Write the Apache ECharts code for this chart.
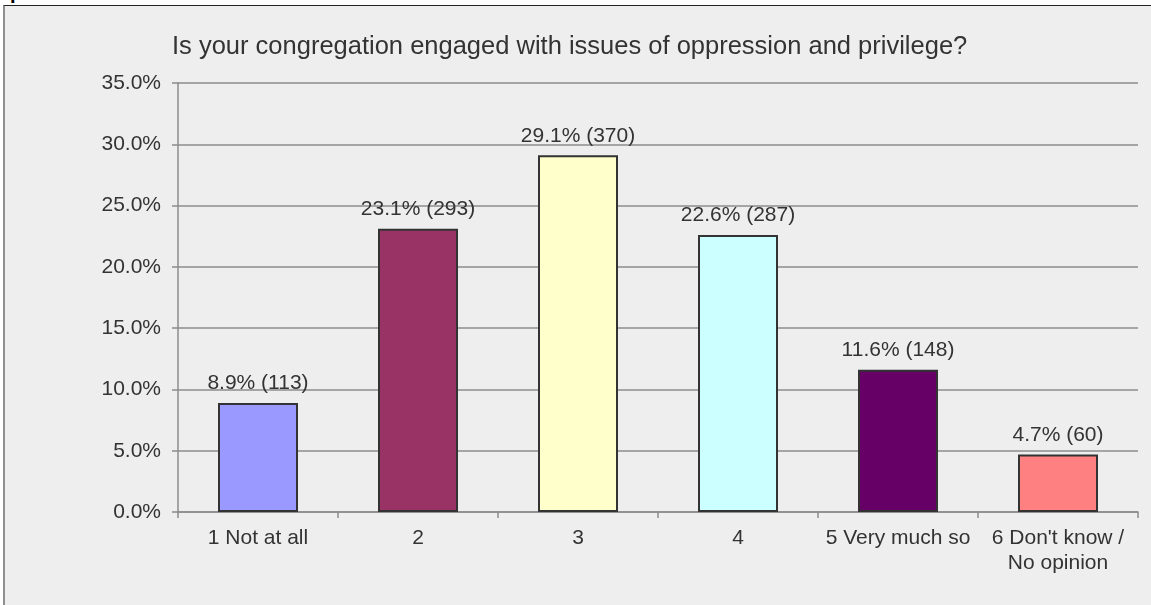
<!DOCTYPE html>
<html><head><meta charset="utf-8">
<script src="https://cdn.jsdelivr.net/npm/echarts@6/dist/echarts.min.js"></script>
<style>
html,body{margin:0;padding:0;background:#fff;}
#frame{position:absolute;left:3px;top:5px;width:1160px;height:620px;background:#eeeeee;border-top:1px solid #222;border-left:2px solid #8f8f8f;box-sizing:border-box;}
#frag{position:absolute;left:10px;top:-19px;font:bold 20px "Liberation Sans",Arial,sans-serif;color:#000;}
#chart{position:absolute;left:0;top:0;width:1151px;height:605px;}
</style></head>
<body>
<div id="frag">p</div>
<div id="frame"></div>
<div id="chart"></div>
<script>
const titleText = "Is your congregation engaged with issues of oppression and privilege?";
const categories = ["1 Not at all", "2", "3", "4", "5 Very much so", "6 Don't know /\nNo opinion"];
const percents = [8.9, 23.1, 29.1, 22.6, 11.6, 4.7];
const counts = [113, 293, 370, 287, 148, 60];
const colors = ["#9999ff", "#993366", "#ffffcc", "#ccffff", "#660066", "#ff8080"];
const yTicks = [0, 5, 10, 15, 20, 25, 30, 35];

const font = '"Liberation Sans", Arial, sans-serif';
const chart = echarts.init(document.getElementById('chart'), null, {renderer: 'canvas'});
chart.setOption({
  backgroundColor: 'transparent',
  animation: false,
  graphic: [{
    type: 'text', left: 172, top: 34,
    style: {text: titleText, font: '25.5px ' + font, fill: '#333'}
  }],
  grid: {left: 178, right: 13, top: 83, bottom: 93, containLabel: false},
  xAxis: {
    type: 'category', data: categories,
    axisLine: {lineStyle: {color: '#8c8c8c', width: 1.5}},
    axisTick: {show: true, length: 6, alignWithLabel: false, lineStyle: {color: '#8c8c8c', width: 1.5}},
    axisLabel: {fontFamily: font, fontSize: 21, color: '#333', margin: 14, lineHeight: 25, interval: 0}
  },
  yAxis: {
    type: 'value', min: yTicks[0], max: yTicks[yTicks.length - 1], interval: 5,
    axisLine: {show: true, lineStyle: {color: '#8c8c8c', width: 1.5}},
    axisTick: {show: true, length: 6, lineStyle: {color: '#8c8c8c', width: 1.5}},
    splitLine: {show: true, lineStyle: {color: '#8c8c8c', width: 1.5}},
    axisLabel: {fontFamily: font, fontSize: 21, color: '#333', margin: 17,
      formatter: v => v.toFixed(1) + '%'}
  },
  series: [{
    type: 'bar',
    barWidth: '50%',
    data: percents.map((v, i) => ({
      value: v,
      itemStyle: {color: colors[i], borderColor: '#333', borderWidth: 2}
    })),
    label: {
      show: true, position: 'top', distance: 9,
      fontFamily: font, fontSize: 21, color: '#333',
      formatter: p => p.value.toFixed(1) + '% (' + counts[p.dataIndex] + ')'
    }
  }]
});
</script>
</body></html>
